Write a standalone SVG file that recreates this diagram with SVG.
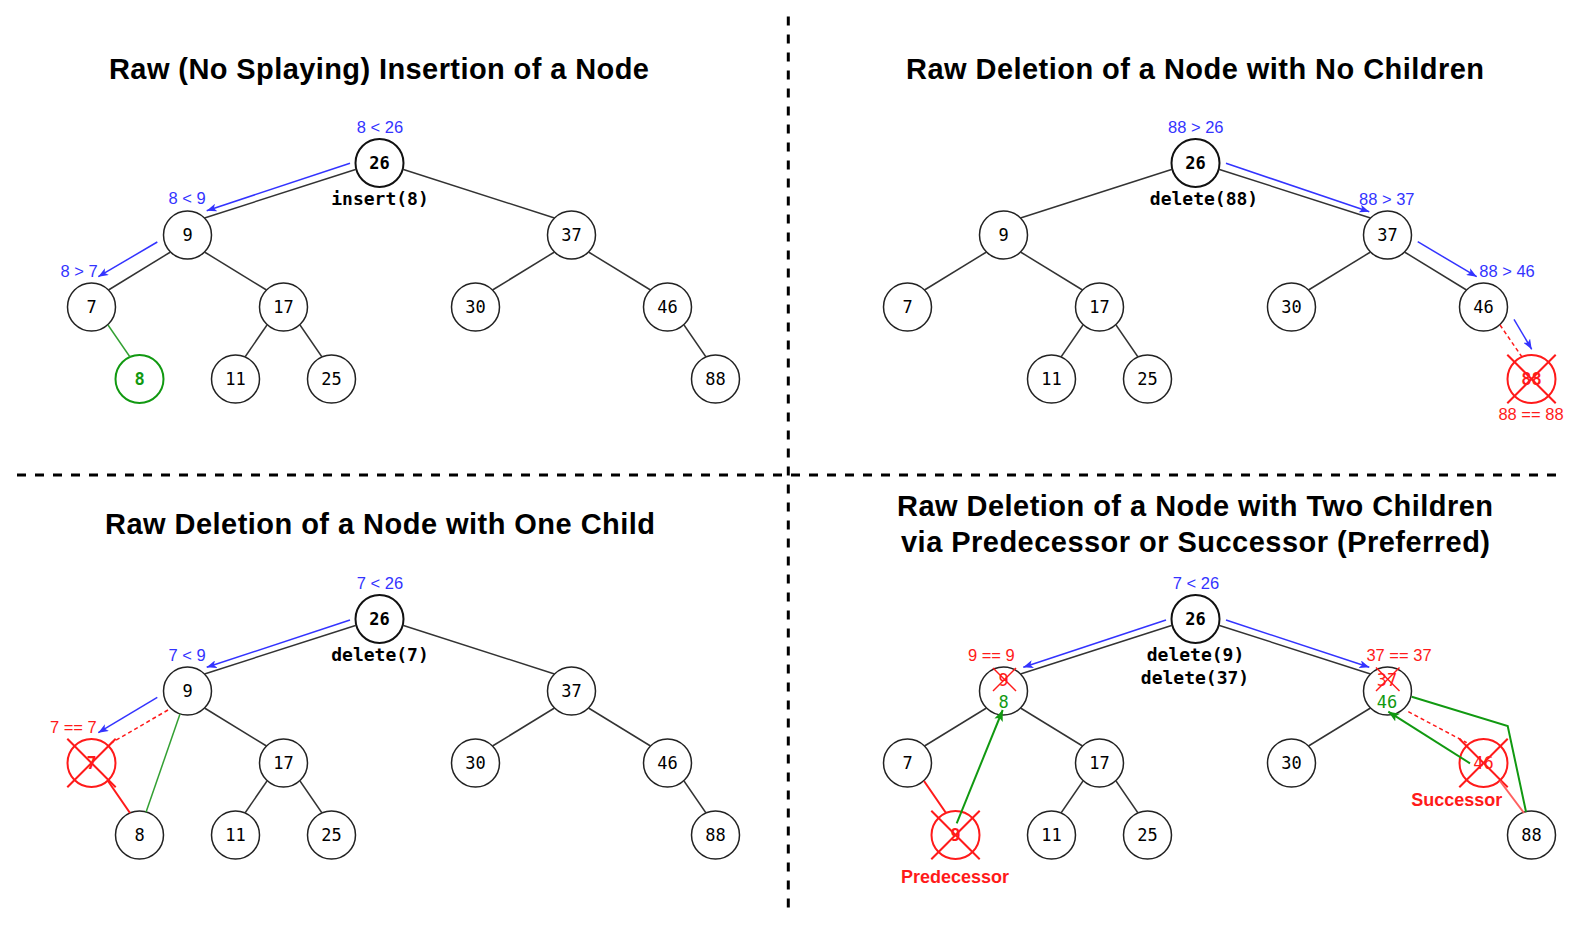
<svg xmlns="http://www.w3.org/2000/svg" width="1584" height="929" viewBox="0 0 1584 929">
<style>
.title{font-family:"Liberation Sans",Arial,sans-serif;font-weight:bold;font-size:29px;fill:#000;text-anchor:middle}
.nd{fill:#fff;stroke:#222;stroke-width:1.5}
.root{fill:#fff;stroke:#111;stroke-width:2}
.nt{font-family:"DejaVu Sans Mono",monospace;font-size:17px;fill:#000;text-anchor:middle}
.bold{font-weight:bold}
.code{font-family:"DejaVu Sans Mono",monospace;font-size:18px;font-weight:bold;fill:#000;text-anchor:middle}
.lb{font-family:"Liberation Sans",Arial,sans-serif;font-size:16.5px;fill:#3333ff;text-anchor:middle}
.lr{font-family:"Liberation Sans",Arial,sans-serif;font-size:16.5px;fill:#ff1a1a;text-anchor:middle}
.lrb{font-family:"Liberation Sans",Arial,sans-serif;font-size:18px;font-weight:bold;fill:#ff1a1a;text-anchor:middle}
.edge{stroke:#333;stroke-width:1.5;fill:none}
.blue{stroke:#3333ff;stroke-width:1.5;fill:none;marker-end:url(#ab)}
.garr{stroke:#119911;stroke-width:2;fill:none;marker-end:url(#ag)}
.gline{stroke:#119911;stroke-width:2;fill:none}
.rsol{stroke:#ff1a1a;stroke-width:2;fill:none}
.rdash{stroke:#ff1a1a;stroke-width:1.5;fill:none;stroke-dasharray:4 3}
.rnode{fill:#fff;stroke:#ff1a1a;stroke-width:2}
.rx{stroke:#ff1a1a;stroke-width:2}
.rxs{stroke:#ff1a1a;stroke-width:1.5}
.div{stroke:#000;stroke-width:3;stroke-dasharray:9 9}
</style>
<defs>
<marker id="ab" markerWidth="10" markerHeight="8" refX="10" refY="4" orient="auto" markerUnits="userSpaceOnUse"><path d="M0,0 L10,4 L0,8 L2.5,4 z" fill="#3333ff"/></marker>
<marker id="ag" markerWidth="11" markerHeight="9" refX="11" refY="4.5" orient="auto" markerUnits="userSpaceOnUse"><path d="M0,0 L11,4.5 L0,9 L2.5,4.5 z" fill="#119911"/></marker>
</defs>
<rect width="1584" height="929" fill="#fff"/>

<g id="dividers">
<line class="div" x1="788.3" y1="16.5" x2="788.3" y2="908"/>
<line class="div" x1="17" y1="475" x2="1556" y2="475"/>
</g>

<g id="titles">
<text class="title" x="379" y="78.5" textLength="540">Raw (No Splaying) Insertion of a Node</text>
<text class="title" x="1195" y="78.5" textLength="578">Raw Deletion of a Node with No Children</text>
<text class="title" x="380" y="534" textLength="550">Raw Deletion of a Node with One Child</text>
<text class="title" x="1195" y="516" textLength="596">Raw Deletion of a Node with Two Children</text>
<text class="title" x="1195.5" y="552" textLength="589">via Predecessor or Successor (Preferred)</text>
</g>

<!-- Panel 1 nodes -->
<g id="p1-n26"><circle class="root" cx="379.5" cy="163" r="24"/><text class="nt bold" x="379.5" y="169">26</text></g>
<g id="p1-n9"><circle class="nd" cx="187.5" cy="235" r="24"/><text class="nt" x="187.5" y="241">9</text></g>
<g id="p1-n37"><circle class="nd" cx="571.5" cy="235" r="24"/><text class="nt" x="571.5" y="241">37</text></g>
<g id="p1-n7"><circle class="nd" cx="91.5" cy="307" r="24"/><text class="nt" x="91.5" y="313">7</text></g>
<g id="p1-n17"><circle class="nd" cx="283.5" cy="307" r="24"/><text class="nt" x="283.5" y="313">17</text></g>
<g id="p1-n30"><circle class="nd" cx="475.5" cy="307" r="24"/><text class="nt" x="475.5" y="313">30</text></g>
<g id="p1-n46"><circle class="nd" cx="667.5" cy="307" r="24"/><text class="nt" x="667.5" y="313">46</text></g>
<g id="p1-n8"><circle cx="139.5" cy="379" r="24" fill="#fff" stroke="#119911" stroke-width="2"/><text class="nt bold" x="139.5" y="385" style="fill:#119911">8</text></g>
<g id="p1-n11"><circle class="nd" cx="235.5" cy="379" r="24"/><text class="nt" x="235.5" y="385">11</text></g>
<g id="p1-n25"><circle class="nd" cx="331.5" cy="379" r="24"/><text class="nt" x="331.5" y="385">25</text></g>
<g id="p1-n88"><circle class="nd" cx="715.5" cy="379" r="24"/><text class="nt" x="715.5" y="385">88</text></g>

<!-- Panel 2 nodes -->
<g id="p2-n26"><circle class="root" cx="1195.5" cy="163" r="24"/><text class="nt bold" x="1195.5" y="169">26</text></g>
<g id="p2-n9"><circle class="nd" cx="1003.5" cy="235" r="24"/><text class="nt" x="1003.5" y="241">9</text></g>
<g id="p2-n37"><circle class="nd" cx="1387.5" cy="235" r="24"/><text class="nt" x="1387.5" y="241">37</text></g>
<g id="p2-n7"><circle class="nd" cx="907.5" cy="307" r="24"/><text class="nt" x="907.5" y="313">7</text></g>
<g id="p2-n17"><circle class="nd" cx="1099.5" cy="307" r="24"/><text class="nt" x="1099.5" y="313">17</text></g>
<g id="p2-n30"><circle class="nd" cx="1291.5" cy="307" r="24"/><text class="nt" x="1291.5" y="313">30</text></g>
<g id="p2-n46"><circle class="nd" cx="1483.5" cy="307" r="24"/><text class="nt" x="1483.5" y="313">46</text></g>
<g id="p2-n11"><circle class="nd" cx="1051.5" cy="379" r="24"/><text class="nt" x="1051.5" y="385">11</text></g>
<g id="p2-n25"><circle class="nd" cx="1147.5" cy="379" r="24"/><text class="nt" x="1147.5" y="385">25</text></g>
<g id="p2-n88"><circle class="rnode" cx="1531.5" cy="379" r="24"/><text class="nt bold" x="1531.5" y="385" style="fill:#ff1a1a">88</text><line class="rx" x1="1507.3" y1="354.8" x2="1555.7" y2="403.2"/><line class="rx" x1="1555.7" y1="354.8" x2="1507.3" y2="403.2"/></g>

<!-- Panel 3 nodes -->
<g id="p3-n26"><circle class="root" cx="379.5" cy="619" r="24"/><text class="nt bold" x="379.5" y="625">26</text></g>
<g id="p3-n9"><circle class="nd" cx="187.5" cy="691" r="24"/><text class="nt" x="187.5" y="697">9</text></g>
<g id="p3-n37"><circle class="nd" cx="571.5" cy="691" r="24"/><text class="nt" x="571.5" y="697">37</text></g>
<g id="p3-n7"><circle class="rnode" cx="91.5" cy="763" r="24"/><text class="nt bold" x="91.5" y="769" style="fill:#ff1a1a">7</text><line class="rx" x1="67.3" y1="738.8" x2="115.7" y2="787.2"/><line class="rx" x1="115.7" y1="738.8" x2="67.3" y2="787.2"/></g>
<g id="p3-n17"><circle class="nd" cx="283.5" cy="763" r="24"/><text class="nt" x="283.5" y="769">17</text></g>
<g id="p3-n30"><circle class="nd" cx="475.5" cy="763" r="24"/><text class="nt" x="475.5" y="769">30</text></g>
<g id="p3-n46"><circle class="nd" cx="667.5" cy="763" r="24"/><text class="nt" x="667.5" y="769">46</text></g>
<g id="p3-n8"><circle class="nd" cx="139.5" cy="835" r="24"/><text class="nt" x="139.5" y="841">8</text></g>
<g id="p3-n11"><circle class="nd" cx="235.5" cy="835" r="24"/><text class="nt" x="235.5" y="841">11</text></g>
<g id="p3-n25"><circle class="nd" cx="331.5" cy="835" r="24"/><text class="nt" x="331.5" y="841">25</text></g>
<g id="p3-n88"><circle class="nd" cx="715.5" cy="835" r="24"/><text class="nt" x="715.5" y="841">88</text></g>

<!-- Panel 4 nodes -->
<g id="p4-n26"><circle class="root" cx="1195.5" cy="619" r="24"/><text class="nt bold" x="1195.5" y="625">26</text></g>
<g id="p4-n9"><circle class="nd" cx="1003.5" cy="691" r="24"/><text class="nt" x="1003.5" y="686" style="fill:#ff1a1a">9</text><line class="rxs" x1="993" y1="668" x2="1016" y2="691"/><line class="rxs" x1="1016" y1="668" x2="993" y2="691"/><text class="nt" x="1003.5" y="708" style="fill:#119911">8</text></g>
<g id="p4-n37"><circle class="nd" cx="1387.5" cy="691" r="24"/><text class="nt" x="1387" y="686" style="fill:#ff1a1a">37</text><line class="rxs" x1="1376" y1="667.5" x2="1399.5" y2="691"/><line class="rxs" x1="1399.5" y1="667.5" x2="1376" y2="691"/><text class="nt" x="1387" y="708" style="fill:#119911">46</text></g>
<g id="p4-n7"><circle class="nd" cx="907.5" cy="763" r="24"/><text class="nt" x="907.5" y="769">7</text></g>
<g id="p4-n17"><circle class="nd" cx="1099.5" cy="763" r="24"/><text class="nt" x="1099.5" y="769">17</text></g>
<g id="p4-n30"><circle class="nd" cx="1291.5" cy="763" r="24"/><text class="nt" x="1291.5" y="769">30</text></g>
<g id="p4-n46"><circle class="rnode" cx="1483.5" cy="763" r="24"/><text class="nt" x="1483.5" y="769" style="fill:#ff1a1a">46</text><line class="rx" x1="1459.3" y1="738.8" x2="1507.7" y2="787.2"/><line class="rx" x1="1507.7" y1="738.8" x2="1459.3" y2="787.2"/></g>
<g id="p4-n9pred"><circle class="rnode" cx="955.5" cy="835" r="24"/><text class="nt bold" x="955.5" y="841" style="fill:#ff1a1a">9</text><line class="rx" x1="931.3" y1="810.8" x2="979.7" y2="859.2"/><line class="rx" x1="979.7" y1="810.8" x2="931.3" y2="859.2"/></g>
<g id="p4-n11"><circle class="nd" cx="1051.5" cy="835" r="24"/><text class="nt" x="1051.5" y="841">11</text></g>
<g id="p4-n25"><circle class="nd" cx="1147.5" cy="835" r="24"/><text class="nt" x="1147.5" y="841">25</text></g>
<g id="p4-n88"><circle class="nd" cx="1531.5" cy="835" r="24"/><text class="nt" x="1531.5" y="841">88</text></g>

<g id="connectors">
<!-- Panel 1 -->
<line class="edge" x1="356.3" y1="169.2" x2="204.5" y2="218"/>
<line class="edge" x1="402.7" y1="169.2" x2="554.5" y2="218"/>
<line class="edge" x1="170.5" y1="252" x2="108.5" y2="290"/>
<line class="edge" x1="204.5" y1="252" x2="266.5" y2="290"/>
<line class="edge" x1="554.5" y1="252" x2="492.5" y2="290"/>
<line class="edge" x1="588.5" y1="252" x2="650.5" y2="290"/>
<line x1="108" y1="325" x2="130" y2="357" stroke="#33a033" stroke-width="1.5"/>
<line class="edge" x1="267" y1="325" x2="245" y2="357"/>
<line class="edge" x1="300" y1="325" x2="322" y2="357"/>
<line class="edge" x1="684" y1="325" x2="706" y2="357"/>
<line class="blue" x1="350" y1="163.3" x2="206.7" y2="210.7"/>
<line class="blue" x1="157.3" y1="242" x2="98.3" y2="276.7"/>
<!-- Panel 2 -->
<line class="edge" x1="1172.3" y1="169.2" x2="1020.5" y2="218"/>
<line class="edge" x1="1218.7" y1="169.2" x2="1370.5" y2="218"/>
<line class="edge" x1="986.5" y1="252" x2="924.5" y2="290"/>
<line class="edge" x1="1020.5" y1="252" x2="1082.5" y2="290"/>
<line class="edge" x1="1370.5" y1="252" x2="1308.5" y2="290"/>
<line class="edge" x1="1404.5" y1="252" x2="1466.5" y2="290"/>
<line class="edge" x1="1083" y1="325" x2="1061" y2="357"/>
<line class="edge" x1="1116" y1="325" x2="1138" y2="357"/>
<line class="rdash" x1="1500" y1="325" x2="1522" y2="357"/>
<line class="blue" x1="1226" y1="163.3" x2="1369.3" y2="211.7"/>
<line class="blue" x1="1417.7" y1="241.7" x2="1476.7" y2="276.7"/>
<line class="blue" x1="1514" y1="319.3" x2="1531.7" y2="349.3"/>
<!-- Panel 3 -->
<line class="edge" x1="356.3" y1="625.2" x2="204.5" y2="674"/>
<line class="edge" x1="402.7" y1="625.2" x2="554.5" y2="674"/>
<line class="rdash" x1="168" y1="710" x2="111" y2="743"/>
<line class="edge" x1="204.5" y1="708" x2="266.5" y2="746"/>
<line class="edge" x1="554.5" y1="708" x2="492.5" y2="746"/>
<line class="edge" x1="588.5" y1="708" x2="650.5" y2="746"/>
<line class="rsol" x1="108" y1="781" x2="130" y2="813"/>
<line x1="180" y1="714" x2="146" y2="812.3" stroke="#33a033" stroke-width="1.5"/>
<line class="edge" x1="267" y1="781" x2="245" y2="813"/>
<line class="edge" x1="300" y1="781" x2="322" y2="813"/>
<line class="edge" x1="684" y1="781" x2="706" y2="813"/>
<line class="blue" x1="350" y1="620" x2="206.7" y2="667.3"/>
<line class="blue" x1="157.3" y1="697.3" x2="98.3" y2="732.7"/>
<!-- Panel 4 -->
<line class="edge" x1="1172.3" y1="625.2" x2="1020.5" y2="674"/>
<line class="edge" x1="1218.7" y1="625.2" x2="1370.5" y2="674"/>
<line class="edge" x1="986.5" y1="708" x2="924.5" y2="746"/>
<line class="edge" x1="1020.5" y1="708" x2="1082.5" y2="746"/>
<line class="edge" x1="1370.5" y1="708" x2="1308.5" y2="746"/>
<line class="rdash" x1="1408.3" y1="711.7" x2="1466.7" y2="742.7"/>
<line class="rsol" x1="924" y1="781" x2="946" y2="813"/>
<line class="edge" x1="1083" y1="781" x2="1061" y2="813"/>
<line class="edge" x1="1116" y1="781" x2="1138" y2="813"/>
<line x1="1500" y1="781" x2="1524" y2="813" stroke="#ff6060" stroke-width="2"/>
<polyline class="gline" points="1411.7,696.7 1507.7,726 1526,811.7"/>
<line class="garr" x1="956.7" y1="823.3" x2="1002.7" y2="710"/>
<line class="garr" x1="1470" y1="763.3" x2="1388.3" y2="711.7"/>
<line class="blue" x1="1166" y1="620" x2="1023.3" y2="667.3"/>
<line class="blue" x1="1226" y1="620" x2="1369.3" y2="667.3"/>
</g>

<g id="labels">
<text class="lb" x="380" y="133.3">8 &lt; 26</text>
<text class="lb" x="187" y="204.3">8 &lt; 9</text>
<text class="lb" x="79" y="276.7">8 &gt; 7</text>
<text class="code" x="380" y="204.5">insert(8)</text>
<text class="lb" x="1195.8" y="133.3">88 &gt; 26</text>
<text class="code" x="1204" y="205">delete(88)</text>
<text class="lb" x="1386.8" y="205">88 &gt; 37</text>
<text class="lb" x="1507" y="276.7">88 &gt; 46</text>
<text class="lr" x="1531" y="420">88 == 88</text>
<text class="lb" x="380" y="589.3">7 &lt; 26</text>
<text class="code" x="380" y="660.5">delete(7)</text>
<text class="lb" x="187" y="660.5">7 &lt; 9</text>
<text class="lr" x="73.3" y="732.7">7 == 7</text>
<text class="lb" x="1196" y="589.3">7 &lt; 26</text>
<text class="code" x="1195.5" y="660.5">delete(9)</text>
<text class="code" x="1195" y="683.5">delete(37)</text>
<text class="lr" x="991.3" y="660.7">9 == 9</text>
<text class="lr" x="1399" y="660.7">37 == 37</text>
<text class="lrb" x="955" y="883.3">Predecessor</text>
<text class="lrb" x="1456.7" y="805.7">Successor</text>
</g>
</svg>
